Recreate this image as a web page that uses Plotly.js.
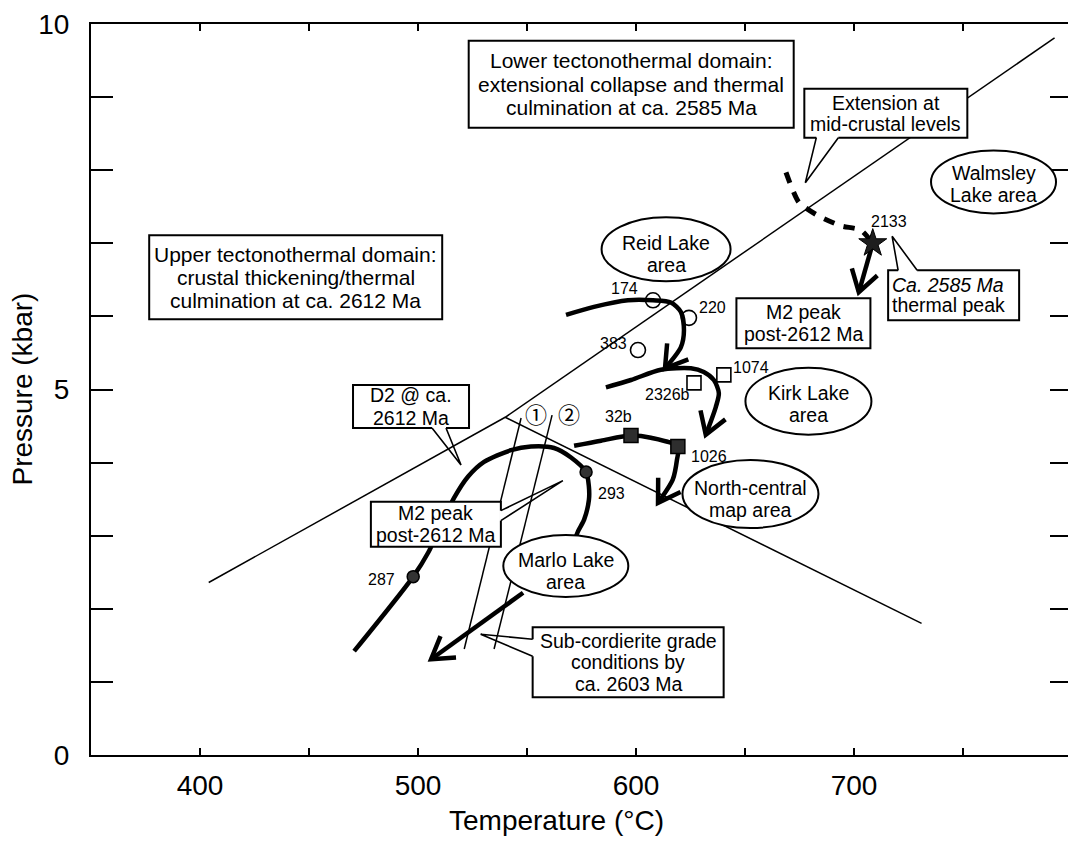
<!DOCTYPE html>
<html>
<head>
<meta charset="utf-8">
<script src="https://cdn.plot.ly/plotly-3.0.1.min.js"></script>
<style>
  html, body { margin: 0; padding: 0; overflow: hidden; background: #fff; }
  #chart { width: 1076px; height: 842px; }
</style>
</head>
<body>
<div id="chart"></div>
<script>
// ---- Al2SiO5 phase boundaries (T in °C, P in kbar), joined at the triple point ----
const kyAndT = [404, 540];
const kyAndP = [2.36, 4.62];
const kySilT = [540, 792];
const kySilP = [4.62, 9.81];
const andSilT = [540, 731];
const andSilP = [4.62, 1.80];

// ---- reaction lines (1) and (2) ----
const line1T = [547.3, 521.2];
const line1P = [4.61, 1.45];
const line2T = [561.5, 534.9];
const line2P = [4.65, 1.45];

// ---- P-T paths ----
const marloT = [470.7, 497.8, 504.7, 510.6, 516.6, 523.0, 530.3, 542.7, 551.8, 562.4, 570.2, 577.1, 578.4, 578.4, 576.2, 573.4, 572.0];
const marloP = [1.42, 2.44, 2.77, 3.15, 3.52, 3.81, 4.01, 4.17, 4.22, 4.20, 4.07, 3.87, 3.67, 3.49, 3.22, 3.06, 2.95];
const marloExitT = [548.2, 506.0];
const marloExitP = [2.22, 1.31];

const reidT = [567.9, 580.7, 596.3, 607.8, 616.0, 620.6, 622.0, 620.6, 613.3];
const reidP = [6.02, 6.13, 6.22, 6.22, 6.19, 6.06, 5.81, 5.58, 5.29];

const kirkT = [586.2, 597.7, 611.4, 625.2, 631.1, 635.7, 638.0, 636.6, 632.0];
const kirkP = [5.03, 5.13, 5.27, 5.29, 5.24, 5.13, 4.95, 4.76, 4.38];

const northT = [571.6, 584.0, 597.7, 606.8, 619.2, 618.8, 616.9, 610.1];
const northP = [4.23, 4.30, 4.37, 4.34, 4.22, 4.04, 3.77, 3.45];

const walmsleyT = [668.8, 674.7, 683.4, 693.9, 703.1, 708.6];
const walmsleyP = [7.97, 7.56, 7.38, 7.24, 7.18, 7.00];
const walmsleyDropT = [708.6, 702.2];
const walmsleyDropP = [7.00, 6.33];

// ---- samples ----
const openCircleNames = ['174', '220', '383'];
const openCircleT = [607.8, 624.3, 600.9];
const openCircleP = [6.22, 5.98, 5.54];

const openSquareNames = ['2326b', '1074'];
const openSquareT = [626.6, 640.3];
const openSquareP = [5.09, 5.20];

const filledSquareNames = ['32b', '1026'];
const filledSquareT = [597.7, 619.2];
const filledSquareP = [4.37, 4.22];

const dotNames = ['287', '293'];
const dotT = [497.8, 577.1];
const dotP = [2.44, 3.87];

const starNames = ['2133'];
const starT = [708.6];
const starP = [7.00];

// ---- axes ----
const xTickVals = [400, 450, 500, 550, 600, 650, 700, 750];
const xTickText = ['400', '', '500', '', '600', '', '700', ''];
const yTickVals = [0, 1, 2, 3, 4, 5, 6, 7, 8, 9, 10];
const yTickText = ['0', '', '', '', '', '5', '', '', '', '', '10'];

// ---- geometry used to size arrowheads in screen pixels ----
const W = 1076, H = 842;
const M = { l: 91, r: 4, t: 24, b: 87 };
const X_RANGE = [350, 800];
const Y_RANGE = [0, 10];
const kx = (W - M.l - M.r) / (X_RANGE[1] - X_RANGE[0]);
const ky = (H - M.t - M.b) / (Y_RANGE[1] - Y_RANGE[0]);

const FONT = 'Liberation Sans, Arial, Helvetica, sans-serif';
const THICK = 4.5;

function arrowHead(ts, ps, len, ang) {
  len = len || 25; ang = ang || 32;
  const n = ts.length;
  const tx = ts[n - 1], ty = ps[n - 1];
  const dx = (tx - ts[n - 2]) * kx, dy = (ty - ps[n - 2]) * ky;
  const d = Math.hypot(dx, dy), ux = dx / d, uy = dy / d;
  const wing = a => {
    const r = a * Math.PI / 180;
    const bx = -(ux * Math.cos(r) - uy * Math.sin(r)) * len;
    const by = -(ux * Math.sin(r) + uy * Math.cos(r)) * len;
    return [tx + bx / kx, ty + by / ky];
  };
  const w1 = wing(ang), w2 = wing(-ang);
  return { x: [w1[0], tx, w2[0]], y: [w1[1], ty, w2[1]] };
}

function thinLine(x, y) {
  return { x, y, mode: 'lines', line: { color: 'black', width: 1.5 }, hoverinfo: 'skip', showlegend: false };
}
function path(x, y, extra) {
  return Object.assign({ x, y, mode: 'lines', line: { color: 'black', width: THICK, shape: 'spline', smoothing: 0.8 }, hoverinfo: 'skip', showlegend: false }, extra || {});
}
function head(ts, ps) {
  const h = arrowHead(ts, ps);
  return { x: h.x, y: h.y, mode: 'lines', line: { color: 'black', width: THICK }, hoverinfo: 'skip', showlegend: false };
}
function samples(x, y, names, marker) {
  return { x, y, text: names, mode: 'markers', marker, hoverinfo: 'text', showlegend: false };
}

const traces = [
  thinLine(kyAndT, kyAndP),
  thinLine(kySilT, kySilP),
  thinLine(andSilT, andSilP),
  thinLine(line1T, line1P),
  thinLine(line2T, line2P),

  path(marloT, marloP),
  path(marloExitT, marloExitP, { line: { color: 'black', width: THICK } }),
  head(marloExitT, marloExitP),

  path(reidT, reidP), head(reidT, reidP),
  path(kirkT, kirkP), head(kirkT, kirkP),
  path(northT, northP), head(northT, northP),

  path(walmsleyT, walmsleyP, { line: { color: 'black', width: 5, dash: '11px,10px', shape: 'spline', smoothing: 0.6 } }),
  path(walmsleyDropT, walmsleyDropP, { line: { color: 'black', width: THICK } }),
  head(walmsleyDropT, walmsleyDropP),

  samples(openCircleT, openCircleP, openCircleNames, { symbol: 'circle-open', size: 15, color: 'black', line: { width: 1.6, color: 'black' } }),
  samples(openSquareT, openSquareP, openSquareNames, { symbol: 'square-open', size: 14, color: 'black', line: { width: 1.6, color: 'black' } }),
  samples(filledSquareT, filledSquareP, filledSquareNames, { symbol: 'square', size: 14, color: '#2e2e2e', line: { width: 1.5, color: 'black' } }),
  samples(dotT, dotP, dotNames, { symbol: 'circle', size: 12, color: '#333', line: { width: 1.5, color: 'black' } }),
  samples(starT, starP, starNames, { symbol: 'star', size: 21, color: '#1e1e1e', line: { width: 1, color: 'black' } })
];

// ---- boxes, call-out tails, ellipses and their text ----
const shapes = [];
const annotations = [];

function pixelShape(T, P, extra) {
  return Object.assign({ xref: 'x', yref: 'y', xsizemode: 'pixel', ysizemode: 'pixel', xanchor: T, yanchor: P, layer: 'above' }, extra);
}
function box(T, P, w, h) {
  shapes.push(pixelShape(T, P, { type: 'rect', x0: -w / 2, x1: w / 2, y0: -h / 2, y1: h / 2, fillcolor: 'white', line: { color: 'black', width: 2 } }));
}
function tail(T, P, b1, tip, b2) {
  shapes.push(pixelShape(T, P, { type: 'path', path: `M ${b1[0]} ${b1[1]} L ${b2[0]} ${b2[1]}`, line: { color: 'white', width: 3.5 } }));
  shapes.push(pixelShape(T, P, { type: 'path', path: `M ${b1[0]} ${b1[1]} L ${tip[0]} ${tip[1]} L ${b2[0]} ${b2[1]}`, line: { color: 'black', width: 1.6 } }));
}
function ellipse(T, P, rx, ry) {
  shapes.push(pixelShape(T, P, { type: 'circle', x0: -rx, x1: rx, y0: -ry, y1: ry, fillcolor: 'white', line: { color: 'black', width: 2 } }));
}
function lines(T, P, texts, shifts, size, opts) {
  opts = opts || {};
  texts.forEach((t, i) => {
    annotations.push({
      x: T, y: P, xref: 'x', yref: 'y', text: t, showarrow: false,
      yshift: shifts[i], xshift: opts.xshift || 0,
      xanchor: opts.xanchor || 'center', yanchor: 'middle',
      font: { family: FONT, size: size, color: 'black' }
    });
  });
}

// Lower tectonothermal domain
box(597.8, 9.175, 325, 87);
lines(597.8, 9.175, ['Lower tectonothermal domain:', 'extensional collapse and thermal', 'culmination at ca. 2585 Ma'], [23.5, 0, -23.5], 21);

// Extension at mid-crustal levels
box(714.6, 8.78, 163, 49);
tail(714.6, 8.78, [-69.5, -24.5], [-80.5, -69.5], [-47.5, -24.5]);
lines(714.6, 8.78, ['Extension at', 'mid-crustal levels'], [10.5, -10.5], 19.5);

// Upper tectonothermal domain
box(443.9, 6.535, 293, 84);
lines(443.9, 6.535, ['Upper tectonothermal domain:', 'crustal thickening/thermal', 'culmination at ca. 2612 Ma'], [23, 0, -23], 21);

// M2 peak (Walmsley Lake)
box(676.8, 5.907, 134, 50);
lines(676.8, 5.907, ['M2 peak', 'post-2612 Ma'], [11, -11], 19.5);

// Ca. 2585 Ma thermal peak
box(745.7, 6.289, 131, 50);
tail(745.7, 6.289, [-55.5, 25], [-61.5, 59], [-36.5, 25]);
lines(745.7, 6.289, ['<i>Ca. 2585 Ma</i>', 'thermal peak'], [10, -10], 19.5, { xanchor: 'left', xshift: -64 });

// D2 @ ca. 2612 Ma
box(496.8, 4.768, 116, 43);
tail(496.8, 4.768, [21, -21.5], [50, -58.5], [35, -21.5]);
lines(496.8, 4.768, ['D2 @ ca.', '2612 Ma'], [11.5, -11.5], 19.5);

// M2 peak (Marlo Lake)
box(508.2, 3.158, 130, 45);
tail(508.2, 3.158, [65, 13.5], [127, 43.5], [65, 3.5]);
lines(508.2, 3.158, ['M2 peak', 'post-2612 Ma'], [11, -11], 19.5);

// Sub-cordierite grade conditions
box(596.4, 1.269, 191, 70);
tail(596.4, 1.269, [-95.5, 23], [-147.5, 28], [-95.5, 6]);
lines(596.4, 1.269, ['Sub-cordierite grade', 'conditions by', 'ca. 2603 Ma'], [21.5, 0, -21.5], 19.5);

// area ellipses
ellipse(764.0, 7.84, 62.5, 31.5);
lines(764.0, 7.84, ['Walmsley', 'Lake area'], [8.5, -13.5], 19.5);
ellipse(613.8, 6.92, 64.5, 32);
lines(613.8, 6.92, ['Reid Lake', 'area'], [6, -16], 19.5);
ellipse(679.1, 4.84, 63, 33.5);
lines(679.1, 4.84, ['Kirk Lake', 'area'], [8.5, -13.5], 19.5);
ellipse(652.5, 3.57, 68, 34);
lines(652.5, 3.57, ['North-central', 'map area'], [6, -16], 19.5);
ellipse(567.8, 2.585, 62.5, 31);
lines(567.8, 2.585, ['Marlo Lake', 'area'], [6.5, -15.5], 19.5);

// reaction line numbers
[['\u2460', 554.2], ['\u2461', 569.3]].forEach(([t, T]) => {
  annotations.push({ x: T, y: 4.68, xref: 'x', yref: 'y', text: t, showarrow: false,
    font: { family: 'Noto Sans CJK JP, Noto Sans CJK SC, sans-serif', size: 22, color: 'black' } });
});

// sample labels, offset in pixels from their symbols
function sampleLabels(names, ts, ps, offsets) {
  names.forEach((n, i) => {
    annotations.push({ x: ts[i], y: ps[i], xref: 'x', yref: 'y', text: n, showarrow: false,
      xshift: offsets[i][0], yshift: offsets[i][1],
      font: { family: FONT, size: 16, color: 'black' } });
  });
}
sampleLabels(openCircleNames, openCircleT, openCircleP, [[-29, 12], [24, 10], [-24, 7]]);
sampleLabels(openSquareNames, openSquareT, openSquareP, [[-26, -12], [27, 7]]);
sampleLabels(filledSquareNames, filledSquareT, filledSquareP, [[-12, 19], [31, -10]]);
sampleLabels(dotNames, dotT, dotP, [[-32, -3], [25, -21]]);
sampleLabels(starNames, starT, starP, [[16, 22]]);

// axis titles
annotations.push({ x: 0.475, y: -0.089, xref: 'paper', yref: 'paper', text: 'Temperature (\u00b0C)', showarrow: false,
  xanchor: 'center', yanchor: 'middle', font: { family: FONT, size: 28, color: 'black' } });
annotations.push({ x: -0.0703, y: 0.5, xref: 'paper', yref: 'paper', text: 'Pressure (kbar)', showarrow: false,
  textangle: -90, xanchor: 'center', yanchor: 'middle', font: { family: FONT, size: 28, color: 'black' } });

const axisCommon = {
  showgrid: false, zeroline: false, showline: true, linecolor: 'black', linewidth: 2,
  ticks: 'inside', tickcolor: 'black', tickwidth: 2, mirror: 'ticks', tickmode: 'array',
  tickfont: { family: FONT, size: 28, color: 'black' }, fixedrange: true
};

const layout = {
  width: W, height: H,
  margin: M,
  paper_bgcolor: 'white', plot_bgcolor: 'white',
  font: { family: FONT, color: 'black' },
  showlegend: false,
  xaxis: Object.assign({}, axisCommon, {
    range: X_RANGE, tickvals: xTickVals, ticktext: xTickText, ticklen: 7, ticklabelstandoff: 4
  }),
  yaxis: Object.assign({}, axisCommon, {
    range: Y_RANGE, tickvals: yTickVals, ticktext: yTickText, ticklen: 22, ticklabelstandoff: 14
  }),
  shapes, annotations
};

Plotly.newPlot('chart', traces, layout, { staticPlot: true, displayModeBar: false });
</script>
</body>
</html>
